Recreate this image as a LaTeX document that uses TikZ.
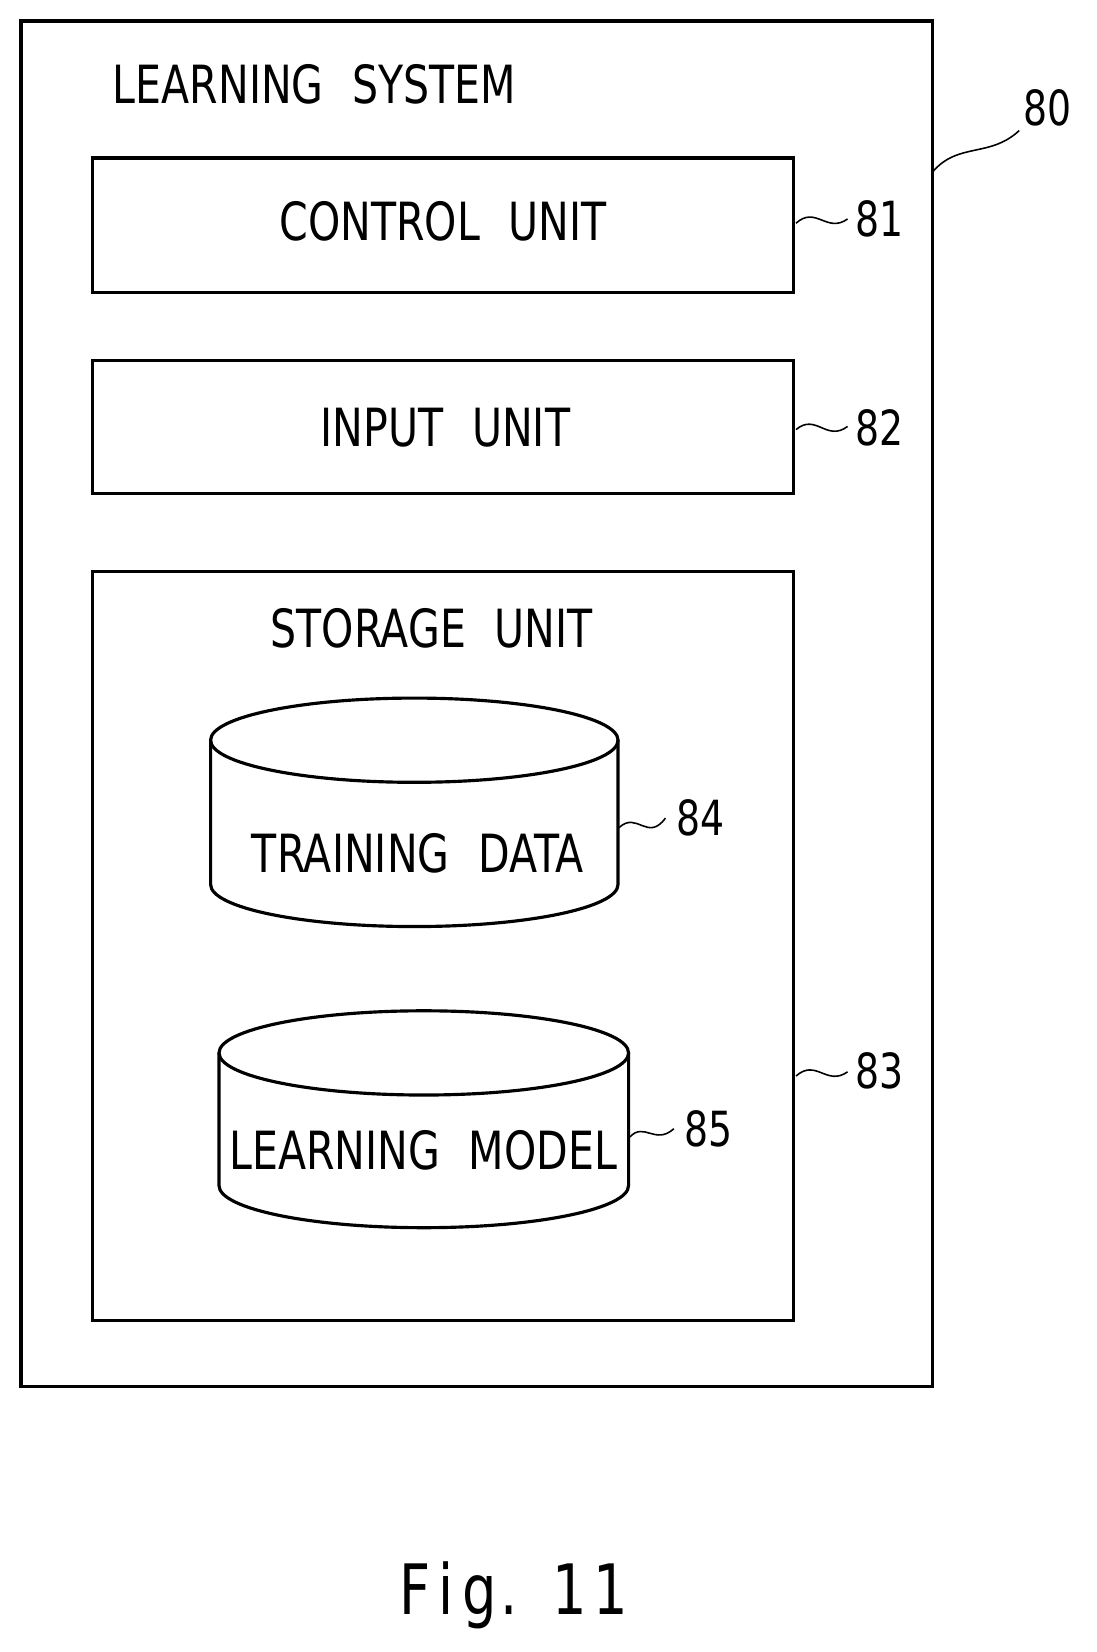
\documentclass[tikz,border=0pt]{standalone}
\usepackage{fontspec}
\setmainfont{DejaVu Sans}[FakeStretch=0.78,WordSpace=2.2]
\begin{document}
\begin{tikzpicture}[x=1pt,y=-1pt,
  box/.style={draw,line width=3pt},
  lbl/.style={font=\fontsize{50}{50}\selectfont,inner sep=0pt},
  num/.style={font=\fontsize{46}{46}\selectfont,inner sep=0pt},
  lead/.style={line width=1.5pt}]
\useasboundingbox (0,0) rectangle (1041,1569);
\fill[white] (0,0) rectangle (1041,1569);
\draw[box] (20,20) rectangle (886,1317);
\node[lbl,anchor=west] (ls) at (107,80) {LEARNING SYSTEM};
\draw[box] (88,150) rectangle (754,278);
\node[lbl] (cu) at (421,210) {CONTROL UNIT};
\draw[box] (88,342) rectangle (754,469);
\node[lbl] (iu) at (423,406) {INPUT UNIT};
\draw[box] (88,543) rectangle (754,1254);
\node[lbl] (su) at (410,597) {STORAGE UNIT};
% cylinder 1
\draw[line width=3pt] (393.5,703) ellipse [x radius=193.5, y radius=40];
\draw[line width=3pt] (200,703) -- (200,840) arc[start angle=180,end angle=0,x radius=193.5,y radius=40] -- (587,703);
\node[lbl] (td) at (397,810) {TRAINING DATA};
% cylinder 2
\draw[line width=3pt] (402.5,1000) ellipse [x radius=194.5, y radius=40];
\draw[line width=3pt] (208,1000) -- (208,1126) arc[start angle=180,end angle=0,x radius=194.5,y radius=40] -- (597,1000);
\node[lbl] (lm) at (402,1093) {LEARNING MODEL};
% labels
\node[num] (n80) at (995,102) {80};
\coordinate (a80) at (886,163);
\draw[lead] (a80) .. controls (910,135) and (940,150) .. (968,124);
\node[num] (n81) at (835,208) {81};
\coordinate (a81) at (756,212);
\draw[lead] (a81) .. controls (775,195) and (785,222) .. (805,208);
\node[num] (n82) at (835,406) {82};
\coordinate (a82) at (756,408);
\draw[lead] (a82) .. controls (775,392) and (785,420) .. (805,405);
\node[num] (n83) at (835,1017) {83};
\coordinate (a83) at (756,1022);
\draw[lead] (a83) .. controls (775,1005) and (785,1032) .. (805,1018);
\node[num] (n84) at (665,777) {84};
\coordinate (a84) at (588,786);
\draw[lead] (a84) .. controls (605,770) and (615,800) .. (632,777);
\node[num] (n85) at (673,1072) {85};
\coordinate (a85) at (598,1080);
\draw[lead] (a85) .. controls (612,1065) and (622,1088) .. (640,1072);
\node[font=\fontsize{66}{66}\selectfont,inner sep=0pt] (fig) at (488,1515) {F\hspace{0.12em}i\hspace{0.12em}g\hspace{0.05em}.\hspace{0.5em}1\hspace{0.1em}1};
\end{tikzpicture}
\end{document}
